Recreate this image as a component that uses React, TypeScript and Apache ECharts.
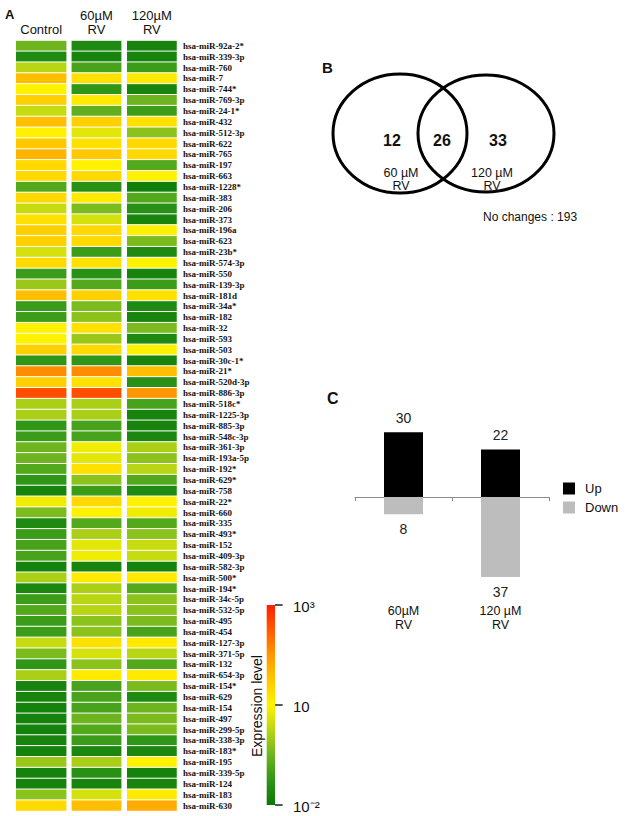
import React, { useEffect, useRef } from "react";
import * as echarts from "echarts";

// ---------- Panel A: heatmap data (log10 expression level) ----------
const columns = ["Control", "60µM\nRV", "120µM\nRV"];

const mirnas = [
  "hsa-miR-92a-2*", "hsa-miR-339-3p", "hsa-miR-760", "hsa-miR-7", "hsa-miR-744*",
  "hsa-miR-769-3p", "hsa-miR-24-1*", "hsa-miR-432", "hsa-miR-512-3p", "hsa-miR-622",
  "hsa-miR-765", "hsa-miR-197", "hsa-miR-663", "hsa-miR-1228*", "hsa-miR-383",
  "hsa-miR-206", "hsa-miR-373", "hsa-miR-196a", "hsa-miR-623", "hsa-miR-23b*",
  "hsa-miR-574-3p", "hsa-miR-550", "hsa-miR-139-3p", "hsa-miR-181d", "hsa-miR-34a*",
  "hsa-miR-182", "hsa-miR-32", "hsa-miR-593", "hsa-miR-503", "hsa-miR-30c-1*",
  "hsa-miR-21*", "hsa-miR-520d-3p", "hsa-miR-886-3p", "hsa-miR-518c*", "hsa-miR-1225-3p",
  "hsa-miR-885-3p", "hsa-miR-548c-3p", "hsa-miR-361-3p", "hsa-miR-193a-5p", "hsa-miR-192*",
  "hsa-miR-629*", "hsa-miR-758", "hsa-miR-22*", "hsa-miR-660", "hsa-miR-335",
  "hsa-miR-493*", "hsa-miR-152", "hsa-miR-409-3p", "hsa-miR-582-3p", "hsa-miR-500*",
  "hsa-miR-194*", "hsa-miR-34c-5p", "hsa-miR-532-5p", "hsa-miR-495", "hsa-miR-454",
  "hsa-miR-127-3p", "hsa-miR-371-5p", "hsa-miR-132", "hsa-miR-654-3p", "hsa-miR-154*",
  "hsa-miR-629", "hsa-miR-154", "hsa-miR-497", "hsa-miR-299-5p", "hsa-miR-338-3p",
  "hsa-miR-183*", "hsa-miR-195", "hsa-miR-339-5p", "hsa-miR-124", "hsa-miR-183",
  "hsa-miR-630",
];

const controlLog = [
  -0.5, -1.55, 0.25, 1.6, 1.0, 1.4, 0.4, 1.6, 1.0, 1.5,
  1.7, 1.3, 1.3, -0.8, 1.3, 0.4, 1.2, 1.4, 1.4, 0.55,
  1.3, -1.1, -0.05, 1.6, -1.1, -1.1, 1.0, 1.0, 1.4, -1.25,
  2.1, 1.4, 2.6, 0.1, 0.1, -1.25, -1.1, -0.5, -0.5, -0.8,
  -1.25, -1.7, 0.85, -0.35, -1.55, -1.1, -0.95, -0.95, -1.76, 0.1,
  -1.64, -1.1, -0.8, -1.1, -1.1, 0.4, -0.35, -1.25, 0.1, -1.7,
  -1.7, -1.76, -1.76, -1.76, -1.7, -1.76, -0.05, -1.76, -1.76, -0.2,
  1.3,
];

const rv60Log = [
  -1.55, -1.7, -0.95, 1.2, -1.25, 1.1, -0.65, 1.4, 0.7, 1.2,
  1.5, 1.0, 1.3, -1.4, 1.1, -0.35, 0.55, 1.3, 1.3, -1.1,
  1.2, -1.4, -0.8, 1.4, -0.35, -0.2, 1.2, -0.05, 1.3, -1.25,
  2.1, 1.2, 2.6, 0.1, 0.1, -0.95, -0.95, 0.85, 0.7, 1.2,
  -0.2, -1.1, 1.3, 1.0, -0.8, 0.1, 0.7, 0.85, -1.7, 1.1,
  0.1, 0.25, 0.25, -0.2, -0.2, 1.2, 0.55, -0.2, 1.1, -0.95,
  -0.95, -0.95, -0.5, -0.8, -1.1, -1.64, 0.1, -1.4, -1.7, 0.55,
  1.6,
];

const rv120Log = [
  -1.7, -1.7, -1.1, 1.1, -1.7, -0.5, -1.1, 1.2, -0.2, 1.3,
  1.3, -0.8, 1.0, -1.85, -0.8, -1.4, -1.7, 1.0, -0.35, -1.55,
  1.0, -1.7, -1.1, 1.2, -1.55, -1.7, -0.35, -1.55, 1.0, -1.7,
  1.6, -1.4, 2.0, -0.95, -1.7, -1.7, -1.64, 0.1, -0.2, 0.25,
  -0.8, -1.55, 1.0, 0.85, -0.8, -0.2, 0.4, 0.4, -1.76, 1.1,
  -0.8, -0.2, -0.2, -0.35, -0.95, 1.1, 0.25, -0.8, 1.1, -0.35,
  -1.55, -0.5, -0.35, -0.35, -1.25, -1.64, 1.0, -1.76, -1.7, 1.1,
  1.8,
];

const colorbarTickLabels = ["10³", "10", "10⁻²"];
const colorbarTickLogs = [3, 1, -2];

// ---------- Panel B: Venn ----------
const vennCounts = [12, 26, 33];
const vennSetLabels = ["60 µM\nRV", "120 µM\nRV"];
const noChangesCount = 193;

// ---------- Panel C: bars ----------
const barCategories = ["60µM\nRV", "120 µM\nRV"];
const upCounts = [30, 22];
const downCounts = [8, 37];

// colour scale (position 0 = 10^-2, 1 = 10, 2 = 10^3)
const scaleColors = [
  "#087808", "#2f9618", "#6db41f", "#b9d614", "#fff200",
  "#ffc800", "#ff9800", "#ff5a00", "#ff1e00",
];

// colour-bar scale: 10^-2 .. 10 occupies the lower half, 10 .. 10^3 the upper half
const toPos = (v: number) => (v <= 1 ? (v + 2) / 3 : 1 + (v - 1) / 2);

const SANS = "Liberation Sans, Arial, Helvetica, sans-serif";
const SERIF = "Liberation Serif, Times New Roman, serif";

export default function App() {
  const ref = useRef<HTMLDivElement>(null);

  useEffect(() => {
    if (!ref.current) return;
    const chart = echarts.init(ref.current, undefined, { renderer: "svg" });

    const colLefts = [15.7, 71.3, 126.7];
    const colWidths = [51, 50.4, 50.3];
    const heatTop = 40.5;
    const heatHeight = 770.5;
    const colData = [controlLog, rv60Log, rv120Log];

    const grids: any[] = [];
    const xAxes: any[] = [];
    const yAxes: any[] = [];
    const series: any[] = [];

    for (let i = 0; i < 3; i++) {
      grids.push({ left: colLefts[i], top: heatTop, width: colWidths[i], height: heatHeight });
      xAxes.push({
        type: "category",
        gridIndex: i,
        position: "top",
        data: [columns[i]],
        axisLine: { show: false },
        axisTick: { show: false },
        splitLine: { show: false },
        axisLabel: {
          margin: 4,
          fontSize: 13,
          lineHeight: 14,
          color: "#111",
          fontFamily: SANS,
        },
      });
      yAxes.push({
        type: "category",
        gridIndex: i,
        inverse: true,
        position: "right",
        data: mirnas,
        axisLine: { show: false },
        axisTick: { show: false },
        splitLine: { show: false },
        axisLabel: {
          show: i === 2,
          interval: 0,
          margin: 6,
          fontSize: 9,
          fontWeight: "bold",
          fontFamily: SERIF,
          color: "#111",
        },
      });
      series.push({
        type: "heatmap",
        xAxisIndex: i,
        yAxisIndex: i,
        data: colData[i].map((v, r) => [0, r, toPos(v)]),
        itemStyle: { borderColor: "#fff", borderWidth: 1 },
        emphasis: { disabled: true },
      });
    }

    // bar chart grid
    grids.push({ left: 355, top: 410.6, width: 194, height: 172.8 });
    xAxes.push({
      type: "category",
      gridIndex: 3,
      data: barCategories,
      axisLine: { onZero: true, lineStyle: { color: "#8a8a8a", width: 1 } },
      axisTick: { show: true, length: 4, lineStyle: { color: "#8a8a8a" } },
      axisLabel: { margin: 21, fontSize: 12.5, lineHeight: 14, color: "#111", fontFamily: SANS },
      splitLine: { show: false },
    });
    yAxes.push({ type: "value", gridIndex: 3, min: -40, max: 40, show: false });
    series.push(
      {
        name: "Up",
        type: "bar",
        xAxisIndex: 3,
        yAxisIndex: 3,
        data: upCounts,
        barWidth: 39,
        barGap: "-100%",
        itemStyle: { color: "#000" },
        label: { show: true, position: "top", distance: 7, fontSize: 14, color: "#222", fontFamily: SANS },
      },
      {
        name: "Down",
        type: "bar",
        xAxisIndex: 3,
        yAxisIndex: 3,
        data: downCounts.map((v) => -v),
        barWidth: 39,
        barGap: "-100%",
        itemStyle: { color: "#bdbdbd" },
        label: {
          show: true,
          position: "bottom",
          distance: 8,
          fontSize: 14,
          color: "#222",
          fontFamily: SANS,
          formatter: (p: any) => String(Math.abs(p.value)),
        },
      }
    );

    // colour bar geometry
    const cbX = 266.7;
    const cbTop = 605;
    const cbH = 200;
    const cbBottom = cbTop + cbH;
    const gradStops = scaleColors
      .map((c, k) => ({ offset: 1 - k / (scaleColors.length - 1), color: c }))
      .reverse();

    const graphics: any[] = [
      { type: "text", left: 5, top: 8, style: { text: "A", fontSize: 13, fontWeight: "bold", fontFamily: SANS, fill: "#111" } },
      { type: "text", x: 322, y: 67.5, style: { text: "B", fontSize: 15, fontWeight: "bold", fontFamily: SANS, fill: "#111", verticalAlign: "middle" } },
      { type: "text", x: 327, y: 398, style: { text: "C", fontSize: 16, fontWeight: "bold", fontFamily: SANS, fill: "#111", verticalAlign: "middle" } },
      // Venn
      { type: "ellipse", shape: { cx: 400, cy: 133.5, rx: 67, ry: 59.5 }, style: { fill: "none", stroke: "#000", lineWidth: 3 } },
      { type: "ellipse", shape: { cx: 486, cy: 133.5, rx: 68, ry: 58.5 }, style: { fill: "none", stroke: "#000", lineWidth: 3 } },
      ...vennCounts.map((c, k) => ({
        type: "text",
        x: [392, 442, 498][k],
        y: 140,
        style: { text: String(c), fontSize: 16, fontWeight: "bold", fontFamily: SANS, fill: "#111", align: "center", verticalAlign: "middle" },
      })),
      ...vennSetLabels.map((t, k) => ({
        type: "text",
        x: [401, 492][k],
        y: 179.5,
        style: { text: t, fontSize: 12.5, lineHeight: 13.5, fontFamily: SANS, fill: "#111", align: "center", verticalAlign: "middle" },
      })),
      { type: "text", x: 483, y: 217, style: { text: "No changes : " + noChangesCount, fontSize: 12, fontFamily: SANS, fill: "#111", verticalAlign: "middle" } },
      // colour bar
      {
        type: "rect",
        shape: { x: cbX, y: cbTop, width: 8.3, height: cbH },
        style: { fill: new echarts.graphic.LinearGradient(0, 0, 0, 1, gradStops) },
      },
      ...colorbarTickLogs.map((lv) => {
        const y = cbBottom - (toPos(lv) / 2) * cbH;
        return { type: "line", shape: { x1: cbX + 8.3, y1: y, x2: cbX + 16, y2: y }, style: { stroke: "#222", lineWidth: 1.5 } };
      }),
      ...colorbarTickLogs.map((lv, k) => {
        const y = cbBottom - (toPos(lv) / 2) * cbH;
        return {
          type: "text",
          x: 293,
          y: y + 1,
          style: { text: colorbarTickLabels[k], fontSize: 15, fontFamily: SANS, fill: "#111", verticalAlign: "middle" },
        };
      }),
      {
        type: "text",
        x: 257,
        y: 706,
        rotation: Math.PI / 2,
        style: { text: "Expression level", fontSize: 14, fontFamily: SANS, fill: "#111", align: "center", verticalAlign: "middle" },
      },
    ];

    chart.setOption({
      animation: false,
      backgroundColor: "#fff",
      textStyle: { fontFamily: SANS },
      grid: grids,
      xAxis: xAxes,
      yAxis: yAxes,
      visualMap: {
        type: "continuous",
        show: false,
        min: 0,
        max: 2,
        dimension: 2,
        seriesIndex: [0, 1, 2],
        inRange: { color: scaleColors },
      },
      legend: {
        data: ["Up", "Down"],
        orient: "vertical",
        left: 563,
        top: 482,
        padding: 0,
        itemWidth: 12,
        itemHeight: 12,
        itemGap: 6,
        icon: "rect",
        textStyle: { fontSize: 13, color: "#111", fontFamily: SANS, padding: [0, 0, 0, 5] },
      },
      series,
      graphic: graphics,
    });

    return () => chart.dispose();
  }, []);

  return (
    <div
      ref={ref}
      style={{ position: "absolute", left: 0, top: 0, width: 629, height: 816, background: "#fff" }}
    />
  );
}
